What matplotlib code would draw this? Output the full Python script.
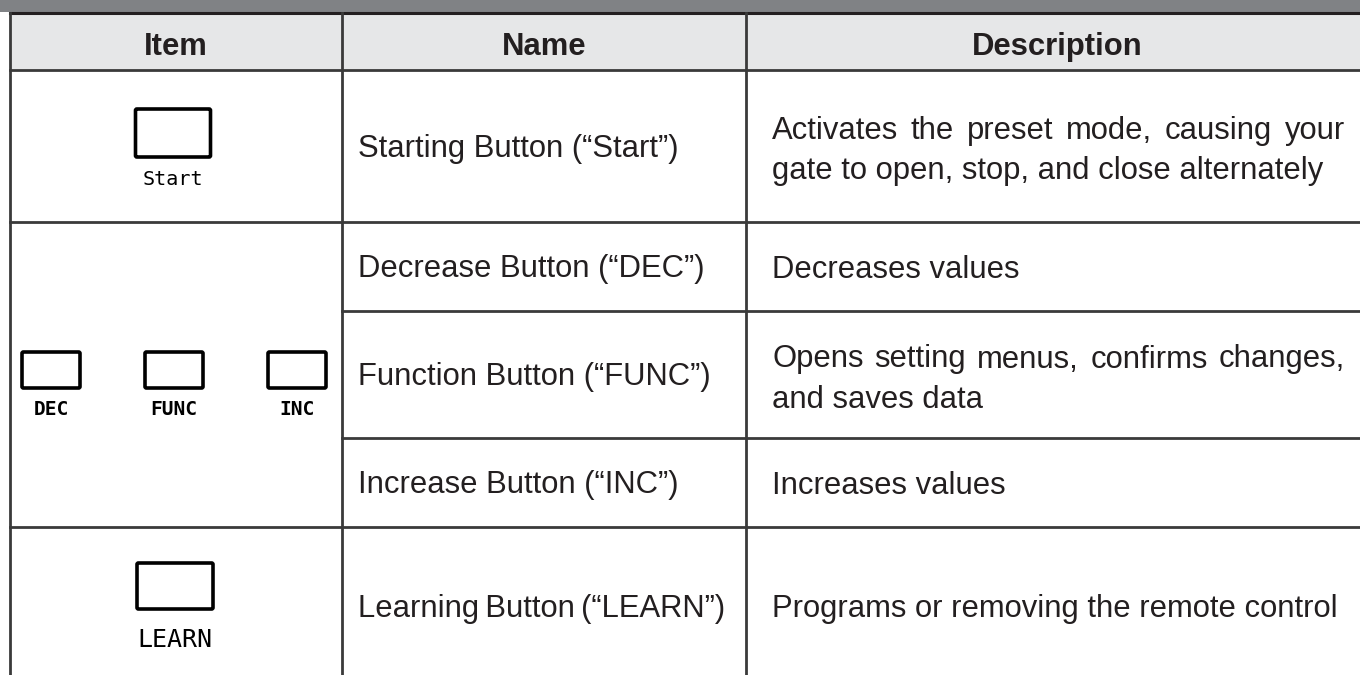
import matplotlib.pyplot as plt
from matplotlib.patches import Rectangle, FancyBboxPatch

# table content
headers = ["Item", "Name", "Description"]
button_groups = [["Start"], ["DEC", "FUNC", "INC"], ["LEARN"]]
names = ["Starting Button (\u201cStart\u201d)", "Decrease Button (\u201cDEC\u201d)",
         "Function Button (\u201cFUNC\u201d)", "Increase Button (\u201cINC\u201d)",
         "Learning\u2009Button\u2009(\u201cLEARN\u201d)"]
descriptions = [["Activates the preset mode, causing your", "gate to open, stop, and close alternately"],
                ["Decreases values"],
                ["Opens setting menus, confirms changes,", "and saves data"],
                ["Increases values"],
                ["Programs or removing the remote control"]]

# layout (pixels)
W, H = 1360, 675
col_x = [10, 342, 746, 1360]
head_y = (13, 70)
row_y = [70, 222, 311, 438, 527, 700]
row_mid = [146, 266.5, 374.5, 482.5, 606]
group_rows = [(0, 1), (1, 4), (4, 5)]
text_col = "#231f20"
line_col = "#3a3a3a"
fs = 22.3
half_cap = 11
font = "Liberation Sans"

fig = plt.figure(figsize=(13.6, 6.75), dpi=100)
ax = fig.add_axes([0, 0, 1, 1])
ax.set_xlim(0, W)
ax.set_ylim(H, 0)
ax.axis("off")

# top bar and header
ax.add_patch(Rectangle((0, 0), W, 12, color="#808285", lw=0))
ax.add_patch(Rectangle((col_x[0], head_y[0]), W - col_x[0], head_y[1] - head_y[0],
                       facecolor="#e6e7e8", edgecolor="none"))
ax.plot([col_x[0], W], [head_y[0], head_y[0]], color="#231f20", lw=2.2)
for i, h in enumerate(headers):
    xc = (col_x[i] + col_x[i + 1]) / 2
    if i == 2:
        xc = 1057
    ax.text(xc, 55, h, ha="center", va="baseline", fontsize=fs, fontweight="bold",
            family=font, color=text_col)

# grid lines
for x in col_x[:3]:
    ax.plot([x, x], [head_y[0], H], color=line_col, lw=2)
ax.plot([col_x[0], W], [head_y[1], head_y[1]], color=line_col, lw=2)
for a, b in group_rows:
    ax.plot([col_x[0], W], [row_y[b], row_y[b]], color=line_col, lw=2)
for k in (2, 3):
    ax.plot([col_x[1], W], [row_y[k], row_y[k]], color=line_col, lw=2)


def button(xc, yc, w, h, label, ly, lsize, weight="normal"):
    ax.add_patch(FancyBboxPatch((xc - w / 2, yc - h / 2), w, h,
                                boxstyle="round,pad=0,rounding_size=1.5",
                                facecolor="white", edgecolor="black", lw=2.6))
    ax.text(xc, ly, label, ha="center", va="baseline", fontsize=lsize,
            family="DejaVu Sans Mono", fontweight=weight, color="black")


# item column buttons
button(173, 133, 75, 48, button_groups[0][0], 185, 14.5)
for lab, xc in zip(button_groups[1], [51, 174, 297]):
    button(xc, 370, 58, 36, lab, 415, 14, "bold")
button(175, 586, 76, 46, button_groups[2][0], 647, 18)

# name column
for i, n in enumerate(names):
    ax.text(358, row_mid[i] + half_cap, n, ha="left", va="baseline", fontsize=fs,
            family=font, color=text_col)

# description column (justified first lines)
fig.canvas.draw()
renderer = fig.canvas.get_renderer()
x0, x1 = 772, 1345
for i, lines in enumerate(descriptions):
    n = len(lines)
    for j, line in enumerate(lines):
        y = row_mid[i] + half_cap + (j - (n - 1) / 2) * 40 + (2 if n > 1 else 0)
        if n > 1 and j < n - 1:
            words = line.split(" ")
            texts = [ax.text(0, y, w, ha="left", va="baseline", fontsize=fs,
                             family=font, color=text_col) for w in words]
            widths = [t.get_window_extent(renderer).width for t in texts]
            gap = (x1 - x0 - sum(widths)) / (len(words) - 1)
            x = x0
            for t, wd in zip(texts, widths):
                t.set_x(x)
                x += wd + gap
        else:
            ax.text(x0, y, line, ha="left", va="baseline", fontsize=fs,
                    family=font, color=text_col)

fig.savefig("out.png", dpi=100)
plt.close(fig)
